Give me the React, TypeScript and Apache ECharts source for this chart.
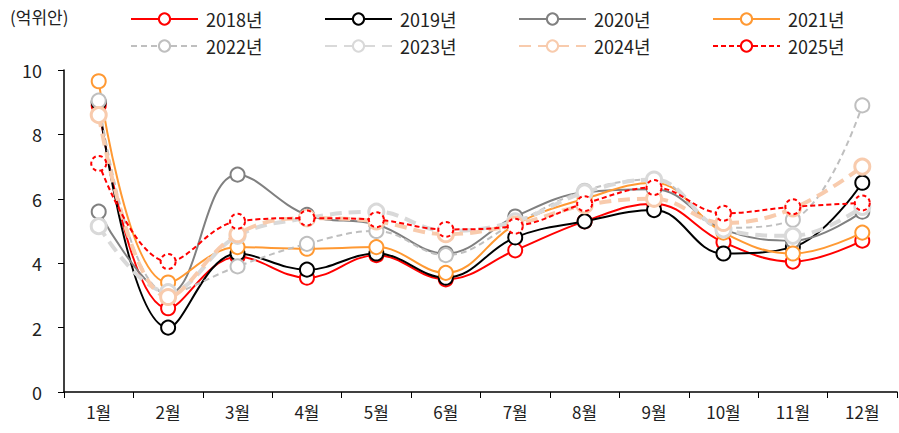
import React, { useEffect, useRef } from "react";
import * as echarts from "echarts";

const months = ["1월", "2월", "3월", "4월", "5월", "6월", "7월", "8월", "9월", "10월", "11월", "12월"];
const yearNames = ["2018년", "2019년", "2020년", "2021년", "2022년", "2023년", "2024년", "2025년"];

const v2018 = [8.9, 2.6, 4.2, 3.55, 4.25, 3.5, 4.4, 5.3, 5.85, 4.65, 4.05, 4.7];
const v2019 = [9.0, 2.0, 4.3, 3.8, 4.3, 3.55, 4.8, 5.3, 5.65, 4.3, 4.5, 6.5];
const v2020 = [5.6, 3.05, 6.75, 5.5, 5.2, 4.3, 5.45, 6.2, 6.3, 5.05, 4.7, 5.6];
const v2021 = [9.65, 3.4, 4.5, 4.45, 4.5, 3.7, 5.2, 6.0, 6.5, 4.95, 4.3, 4.95];
const v2022 = [9.05, 3.05, 3.9, 4.6, 5.0, 4.25, 5.25, 6.25, 6.6, 5.1, 5.35, 8.9];
const v2023 = [5.15, 3.1, 4.85, 5.4, 5.6, 5.0, 5.3, 6.2, 6.6, 5.05, 4.85, 5.75];
const v2024 = [8.6, 2.95, 4.9, 5.4, 5.3, 4.9, 5.2, 5.8, 6.0, 5.25, 5.7, 7.0];
const v2025 = [7.1, 4.05, 5.3, 5.4, 5.35, 5.05, 5.15, 5.85, 6.35, 5.55, 5.75, 5.87];

const yTicks = [0, 2, 4, 6, 8, 10];

const FONT = "'Noto Sans CJK KR', 'Noto Sans', sans-serif";

type Style = { color: string; width: number; type: any; symbolSize: number; borderWidth: number; borderType: any };

const styles: Style[] = [
  { color: "#FF0000", width: 2, type: "solid", symbolSize: 14, borderWidth: 2, borderType: "solid" },
  { color: "#000000", width: 2, type: "solid", symbolSize: 14, borderWidth: 2, borderType: "solid" },
  { color: "#808080", width: 2, type: "solid", symbolSize: 14, borderWidth: 2, borderType: "solid" },
  { color: "#FF9933", width: 2, type: "solid", symbolSize: 14, borderWidth: 2, borderType: "solid" },
  { color: "#BFBFBF", width: 2, type: [6, 4], symbolSize: 14, borderWidth: 2, borderType: "solid" },
  { color: "#D9D9D9", width: 4, type: [12, 7], symbolSize: 15, borderWidth: 3, borderType: "solid" },
  { color: "#F8CBAD", width: 4, type: [12, 7], symbolSize: 15, borderWidth: 3, borderType: "solid" },
  { color: "#FF0000", width: 2, type: [5, 3], symbolSize: 15, borderWidth: 2, borderType: [4, 3] },
];

const allValues = [v2018, v2019, v2020, v2021, v2022, v2023, v2024, v2025];

export default function App() {
  const ref = useRef<HTMLDivElement>(null);
  useEffect(() => {
    if (!ref.current) return;
    const chart = echarts.init(ref.current, undefined, { renderer: "svg" });
    const series = yearNames.map((name, i) => {
      const s = styles[i];
      return {
        name,
        type: "line",
        data: allValues[i],
        smooth: 0.4,
        symbol: "circle",
        symbolSize: s.symbolSize,
        showSymbol: true,
        lineStyle: { color: s.color, width: s.width, type: s.type },
        itemStyle: { color: "#FFFFFF", borderColor: s.color, borderWidth: s.borderWidth, borderType: s.borderType },
        z: 2 + i,
      };
    });
    const legends = yearNames.map((name, i) => ({
      left: 130 + 194 * (i % 4),
      top: i < 4 ? 10 : 37,
      itemWidth: 67,
      itemHeight: 14,
      padding: 0,
      data: [name],
      textStyle: { fontFamily: FONT, fontSize: 18, color: "#222", padding: [0, 0, 0, 3] },
    }));
    chart.setOption({
      animation: false,
      grid: { left: 64, right: 2, top: 70, bottom: 41 },
      legend: legends,
      graphic: [
        { type: "text", left: 10, top: 8, style: { text: "(억위안)", font: `17px ${FONT}`, fill: "#222" } },
      ],
      xAxis: {
        type: "category",
        data: months,
        boundaryGap: true,
        axisLine: { lineStyle: { color: "#000", width: 1.5 } },
        axisTick: { show: true, length: 6, lineStyle: { color: "#000" } },
        axisLabel: { fontFamily: FONT, fontSize: 17, color: "#222", margin: 11 },
      },
      yAxis: {
        type: "value",
        min: 0,
        max: yTicks[yTicks.length - 1],
        interval: 2,
        splitLine: { show: false },
        axisLine: { show: true, lineStyle: { color: "#000", width: 1.5 } },
        axisTick: { show: true, length: 6, lineStyle: { color: "#000" } },
        axisLabel: { fontFamily: FONT, fontSize: 18, color: "#222", margin: 22 },
      },
      series,
    });
    return () => chart.dispose();
  }, []);
  return <div ref={ref} style={{ width: 899, height: 433, position: "absolute", left: 0, top: 0 }} />;
}
